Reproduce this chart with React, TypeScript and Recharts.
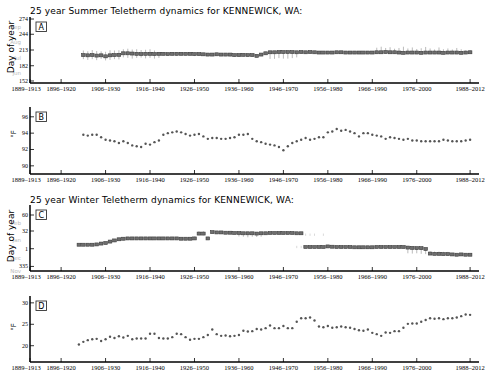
import React from "react";
import { ScatterChart, Scatter, XAxis, YAxis, ErrorBar } from "recharts";

// 25-year windows, labelled by the start year of the window
const summerYears = Array.from({ length: 88 }, (_, i) => 1901 + i);
const winterYears = Array.from({ length: 89 }, (_, i) => 1900 + i);

const periodTicks = [1889, 1896, 1906, 1916, 1926, 1936, 1946, 1956, 1966, 1976, 1988];
const periodLabels = [
    "1889–1913", "1896–1920", "1906–1930", "1916–1940", "1926–1950", "1936–1960",
    "1946–1970", "1956–1980", "1966–1990", "1976–2000", "1988–2012",
];

// A: summer teletherm day of year
const summerDay = [
    203, 202.5, 203, 202, 202.5, 200.5, 202.5, 203, 203.5, 206.5,
    206.5, 206, 205.5, 205, 205.5, 205.5, 205, 205.5, 205.5, 205,
    205.5, 205.5, 205.5, 205.5, 205.5, 205, 205, 204.5, 204, 204,
    204.5, 204, 204, 204, 203, 203, 203.5, 203, 203, 201.5,
    204, 206.5, 208.5, 208.5, 209, 209, 209, 209, 208.5, 209,
    208.5, 209, 208.5, 208, 208, 208, 208, 208.5, 208.5, 208,
    208, 208, 208, 208, 208, 208, 208.5, 208.5, 209, 208.5,
    208.5, 208, 207.5, 208, 208, 208, 207.5, 208, 208, 208,
    208, 207.5, 208, 208, 208, 207.5, 208, 208.5,
];
// spread below / above the teletherm day
const summerSpread = [
    [8, 9], [9, 8], [8, 10], [9, 9], [7, 8], [8, 9], [9, 10], [8, 9], [9, 9], [8, 8],
    [9, 9], [10, 8], [8, 9], [7, 8], [9, 8], [8, 9], [9, 7], [8, 3], [3, 3], [3, 2],
    [3, 3], [4, 3], [3, 3], [3, 2], [3, 3], [4, 3], [3, 3], [3, 3], [3, 2], [3, 3],
    [3, 3], [3, 2], [3, 3], [4, 3], [3, 3], [3, 3], [3, 2], [3, 3], [3, 3], [3, 3],
    [3, 3], [3, 3], [13, 2], [13, 2], [12, 2], [13, 2], [13, 2], [12, 2], [10, 2], [3, 2],
    [3, 2], [2.5, 2.5], [2.5, 2.5], [2.5, 2.5], [2.5, 2.5], [2.5, 2.5], [2.5, 2.5], [2.5, 2.5], [2.5, 2.5], [2.5, 2.5],
    [2.5, 2.5], [2.5, 2.5], [2.5, 2.5], [2.5, 2.5], [2.5, 2.5], [2.5, 2.5], [3, 9], [3, 11], [3, 8], [3, 10],
    [3, 7], [3, 9], [3, 12], [3, 8], [3, 10], [3, 7], [3, 9], [3, 11], [3, 8], [3, 6],
    [3, 10], [3, 7], [3, 8], [3, 6], [3, 9], [3, 7], [3, 4], [3, 4],
];

// B: summer teletherm temperature, °F
const summerTemp = [
    93.8, 93.7, 93.8, 93.8, 93.5, 93.2, 93.1, 93.0, 92.8, 93.0,
    92.8, 92.5, 92.4, 92.3, 92.7, 92.6, 92.9, 93.1, 93.8, 94.0,
    94.1, 94.2, 94.1, 93.9, 93.7, 93.8, 93.9, 93.6, 93.3, 93.4,
    93.4, 93.3, 93.3, 93.4, 93.5, 93.8, 93.8, 93.9, 93.3, 93.0,
    92.9, 92.7, 92.6, 92.5, 92.3, 91.9, 92.4, 92.8, 93.0, 93.2,
    93.4, 93.2, 93.3, 93.5, 93.5, 94.1, 94.2, 94.5, 94.3, 94.4,
    94.2, 94.0, 93.6, 94.0, 94.0, 93.8, 93.7, 93.6, 93.3, 93.5,
    93.4, 93.3, 93.2, 93.3, 93.1, 93.1, 93.0, 93.0, 93.0, 93.0,
    93.0, 93.2, 93.1, 93.0, 93.0, 93.0, 93.1, 93.2,
];

// C: winter teletherm day of year (days before Jan 1 are negative)
const winterDay = [
    8, 8, 8, 8, 8.5, 10, 11, 13.5, 15.5, 17.5,
    18.5, 19, 19, 19, 19, 19, 19, 19, 19, 19,
    19, 19, 19, 18.5, 18.5, 18.5, 19, 27.5, 27.5, 19,
    30, 29.5, 29.5, 29, 29, 28.5, 28.5, 28, 28, 28,
    27.5, 28, 28, 28.5, 28.5, 28.5, 28.5, 28.5, 28.5, 28,
    28, 4, 4, 4, 4, 4, 5, 4.5, 4, 4,
    4, 4, 3.5, 3.5, 3.5, 3.5, 3.5, 4, 4, 4,
    4, 4, 4, 4, 3, 2.5, 2, 2, 0.5, -7.5,
    -8, -8, -8.5, -8.5, -9, -9.5, -9, -9.5, -9.5,
];
const winterSpread = [
    [1.5, 1.5], [1.5, 1.5], [1.5, 1.5], [1.5, 1.5], [1.5, 1.5], [1.5, 1.5], [1.5, 1.5], [3, 2], [3, 2], [3, 2],
    [3, 2], [1.5, 1.5], [1.5, 1.5], [1.5, 1.5], [1.5, 1.5], [1.5, 1.5], [1.5, 1.5], [1.5, 1.5], [1.5, 1.5], [1.5, 1.5],
    [1.5, 1.5], [1.5, 1.5], [1.5, 1.5], [1.5, 1.5], [1.5, 1.5], [1.5, 1.5], [2, 3], [3, 4], [3, 4], [2, 2],
    [1.5, 1.5], [1.5, 1.5], [1.5, 1.5], [1.5, 1.5], [1.5, 1.5], [1.5, 1.5], [6, 1.5], [6, 1.5], [7, 1.5], [6, 1.5],
    [6, 1.5], [6, 1.5], [1.5, 1.5], [1.5, 1.5], [1.5, 1.5], [1.5, 1.5], [1.5, 1.5], [1.5, 1.5], [1.5, 1.5], [1.5, 1.5],
    [1.5, 1.5], [1.5, 1.5], [1.5, 1.5], [1.5, 1.5], [1.5, 1.5], [1.5, 1.5], [1.5, 1.5], [1.5, 1.5], [1.5, 1.5], [1.5, 1.5],
    [1.5, 1.5], [1.5, 1.5], [1.5, 1.5], [1.5, 1.5], [1.5, 1.5], [1.5, 1.5], [1.5, 1.5], [1.5, 1.5], [1.5, 1.5], [1.5, 1.5],
    [1.5, 1.5], [1.5, 1.5], [1.5, 1.5], [1.5, 1.5], [10, 1.5], [10, 1.5], [9, 1.5], [10, 1.5], [9, 1.5], [1.5, 4],
    [1.5, 4], [1.5, 4], [1.5, 4], [1.5, 4], [1.5, 1.5], [1.5, 1.5], [1.5, 1.5], [1.5, 1.5], [1.5, 1.5],
];
// faint second modes around the 1950 jump
const winterGhostYears = [1949, 1950, 1951, 1952, 1953, 1955];
const winterGhostDay = [4, 4, 25.5, 25.5, 25.5, 25.5];

// D: winter teletherm temperature, °F
const winterTemp = [
    20.3, 20.9, 21.3, 21.5, 21.6, 21.1, 21.5, 22.1, 21.8, 22.2,
    21.9, 22.3, 21.5, 21.7, 21.7, 21.7, 22.8, 22.8, 21.8, 21.7,
    21.7, 22.0, 22.8, 22.7, 22.0, 21.4, 21.6, 21.6, 22.0, 22.5,
    23.8, 22.7, 22.3, 22.4, 22.2, 22.3, 22.5, 23.5, 23.3, 23.4,
    23.9, 23.8, 24.1, 24.7, 24.1, 24.1, 24.6, 24.1, 24.1, 25.6,
    26.4, 26.4, 26.6, 25.9, 24.5, 24.3, 24.6, 24.2, 24.3, 24.5,
    24.3, 24.2, 23.9, 23.6, 23.5, 23.8, 23.0, 22.7, 22.3, 23.1,
    23.0, 23.4, 23.4, 24.2, 25.1, 25.2, 25.2, 25.6, 26.0, 26.4,
    26.3, 26.4, 26.2, 26.4, 26.4, 26.6, 26.9, 27.3, 27.2,
];

const summerDayTicks = [152, 182, 213, 244, 274];
const summerMonths: Record<number, string> = { 167: "Jun", 197: "Jul", 228: "Aug", 259: "Sep" };
const winterDayTicks = [-30, 1, 32, 60];
const winterMonths: Record<number, string> = { [-38.5]: "Nov", [-15]: "Dec", 16: "Jan", 46: "Feb" };
const summerTempTicks = [90, 92, 94, 96];
const winterTempTicks = [20, 25, 30];

const summerDayData = summerYears.map((year, i) => ({ year, v: summerDay[i], spread: summerSpread[i] }));
const summerTempData = summerYears.map((year, i) => ({ year, v: summerTemp[i] }));
const winterDayData = winterYears.map((year, i) => ({ year, v: winterDay[i], spread: winterSpread[i] }));
const winterGhostData = winterGhostYears.map((year, i) => ({ year, v: winterGhostDay[i], spread: [2, 2] }));
const winterTempData = winterYears.map((year, i) => ({ year, v: winterTemp[i] }));

const W = 488;
const frame = { stroke: "#000", strokeWidth: 1.5 };
const tickLine = { stroke: "#000", strokeWidth: 0.8 };
const serif = "Liberation Serif, Times New Roman, serif";
const sans = "DejaVu Sans, sans-serif";

const Square = (p: any) => (
    <rect x={p.cx - 1.8} y={p.cy - 1.5} width={3.6} height={3} fill="#6e6e6e" stroke="#3a3a3a" strokeWidth={0.6} />
);
const Dot = (p: any) => <circle cx={p.cx} cy={p.cy} r={1.2} fill="#555" />;
const Nothing = () => <g />;

function PeriodTick(props: any) {
    const { x, y, payload } = props;
    const i = periodTicks.indexOf(payload.value);
    // first label sits slightly left of its tick, as in the source figure
    return (
        <text x={i === 0 ? x - 4 : x} y={y} dy={5} textAnchor="middle" fontSize={6.5} fill="#000" fontFamily={serif}>
            {periodLabels[i]}
        </text>
    );
}

function LeftTick(props: any) {
    const { x, y, payload, months, fmt } = props;
    const v = payload.value;
    if (months && months[v]) {
        return (
            <text x={x - 7} y={y} dy={2} textAnchor="end" fontSize={5.5} fill="#bbb" fontFamily={sans}>
                {months[v]}
            </text>
        );
    }
    return (
        <g>
            <line x1={x + 2} x2={x + 6} y1={y} y2={y} stroke="#000" strokeWidth={0.8} />
            <text x={x} y={y} dy={2} textAnchor="end" fontSize={6} fill="#000" fontFamily={serif}>
                {fmt ? fmt(v) : v}
            </text>
        </g>
    );
}

function Panel(props: any) {
    const { top, plotH, domain, ticks, months, fmt, children } = props;
    const leftTicks = months ? [...ticks, ...Object.keys(months).map(Number)] : ticks;
    return (
        <div style={{ position: "absolute", left: 0, top: top - 2 }}>
            <ScatterChart width={W} height={plotH + 16} margin={{ top: 2, right: 9, bottom: 0, left: 0 }}>
                <XAxis
                    dataKey="year"
                    type="number"
                    domain={[1889, 1990]}
                    allowDataOverflow
                    ticks={periodTicks}
                    interval={0}
                    tickSize={-4}
                    tickMargin={7}
                    height={14}
                    axisLine={frame}
                    tickLine={tickLine}
                    tick={(p: any) => <PeriodTick {...p} />}
                />
                <XAxis
                    xAxisId="top"
                    orientation="top"
                    type="number"
                    domain={[1889, 1990]}
                    allowDataOverflow
                    ticks={periodTicks}
                    interval={0}
                    tickSize={-4}
                    height={0}
                    axisLine={frame}
                    tickLine={tickLine}
                    tick={false}
                />
                <YAxis
                    dataKey="v"
                    type="number"
                    domain={domain}
                    allowDataOverflow
                    ticks={leftTicks}
                    interval={0}
                    width={30}
                    tickSize={0}
                    tickMargin={2}
                    axisLine={frame}
                    tickLine={false}
                    tick={(p: any) => <LeftTick {...p} months={months} fmt={fmt} />}
                />
                <YAxis
                    yAxisId="right"
                    orientation="right"
                    type="number"
                    domain={domain}
                    allowDataOverflow
                    ticks={ticks}
                    interval={0}
                    width={0}
                    tickSize={-4}
                    axisLine={frame}
                    tickLine={tickLine}
                    tick={false}
                />
                {children}
            </ScatterChart>
        </div>
    );
}

export default function App() {
    return (
        <div style={{ position: "absolute", left: 0, top: 0, width: W, height: 376, background: "#fff", overflow: "hidden" }}>
            <Panel top={17} plotH={66} domain={[148, 278]} ticks={summerDayTicks} months={summerMonths}>
                <Scatter data={summerDayData} shape={Square} isAnimationActive={false}>
                    <ErrorBar dataKey="spread" direction="y" width={0} stroke="#aaa" strokeWidth={0.8} />
                </Scatter>
            </Panel>
            <Panel top={107} plotH={67} domain={[89, 97.2]} ticks={summerTempTicks}>
                <Scatter data={summerTempData} shape={Dot} isAnimationActive={false} />
            </Panel>
            <Panel
                top={205}
                plotH={66}
                domain={[-38, 77.5]}
                ticks={winterDayTicks}
                months={winterMonths}
                fmt={(v: number) => (v < 0 ? v + 365 : v)}
            >
                <Scatter data={winterGhostData} shape={Nothing} isAnimationActive={false}>
                    <ErrorBar dataKey="spread" direction="y" width={0} stroke="#d0d0d0" strokeWidth={0.8} />
                </Scatter>
                <Scatter data={winterDayData} shape={Square} isAnimationActive={false}>
                    <ErrorBar dataKey="spread" direction="y" width={0} stroke="#aaa" strokeWidth={0.8} />
                </Scatter>
            </Panel>
            <Panel top={296} plotH={66} domain={[16.2, 31.6]} ticks={winterTempTicks}>
                <Scatter data={winterTempData} shape={Dot} isAnimationActive={false} />
            </Panel>

            <svg width={W} height={376} style={{ position: "absolute", left: 0, top: 0, pointerEvents: "none" }}>
                <text x={30} y={14} fontSize={9} letterSpacing={0.15} fontFamily={sans} fill="#000">
                    25 year Summer Teletherm dynamics for KENNEWICK, WA:
                </text>
                <text x={30} y={203} fontSize={9} letterSpacing={0.15} fontFamily={sans} fill="#000">
                    25 year Winter Teletherm dynamics for KENNEWICK, WA:
                </text>
                <text transform="translate(14,47) rotate(-90)" textAnchor="middle" fontSize={9} fontFamily={sans}>
                    Day of year
                </text>
                <text transform="translate(14,236) rotate(-90)" textAnchor="middle" fontSize={9} fontFamily={sans}>
                    Day of year
                </text>
                <text transform="translate(16,134) rotate(-90)" textAnchor="middle" fontSize={7} fontFamily={sans}>
                    °F
                </text>
                <text transform="translate(16,327) rotate(-90)" textAnchor="middle" fontSize={7} fontFamily={sans}>
                    °F
                </text>
                {[
                    ["A", 17],
                    ["B", 107],
                    ["C", 205],
                    ["D", 296],
                ].map(([letter, t]) => (
                    <g key={letter as string}>
                        <rect x={36} y={(t as number) + 5} width={10.5} height={9.5} fill="#fff" stroke="#333" strokeWidth={0.9} />
                        <text x={41.25} y={(t as number) + 12.8} textAnchor="middle" fontSize={8} fontFamily={sans}>
                            {letter}
                        </text>
                    </g>
                ))}
            </svg>
        </div>
    );
}
